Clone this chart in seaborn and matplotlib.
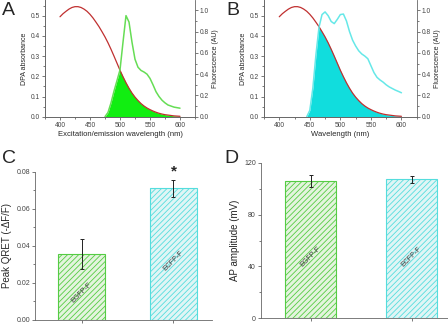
import numpy as np
import pandas as pd
import matplotlib
matplotlib.use('Agg')
import matplotlib.pyplot as plt
import seaborn as sns
from matplotlib.ticker import AutoMinorLocator

# spectra, shared 5 nm grid 400..600
wavelength = np.arange(400, 601, 5)
dpa_abs = [0.495, 0.510, 0.522, 0.533, 0.541, 0.545, 0.545, 0.541, 0.533, 0.522,
           0.507, 0.489, 0.468, 0.446, 0.421, 0.395, 0.366, 0.334, 0.300, 0.265,
           0.230, 0.198, 0.168, 0.141, 0.117, 0.097, 0.080, 0.065, 0.053, 0.043,
           0.035, 0.028, 0.022, 0.017, 0.013, 0.010, 0.008, 0.006, 0.004, 0.003, 0.002]
egfp_em = [0, 0, 0, 0, 0, 0, 0, 0, 0, 0,
           0, 0, 0, 0, 0, 0.0, 0.04, 0.13, 0.24, 0.34,
           0.44, 0.70, 0.95, 0.89, 0.70, 0.54, 0.465, 0.435, 0.42, 0.40,
           0.36, 0.30, 0.235, 0.19, 0.155, 0.13, 0.11, 0.10, 0.09, 0.085, 0.08]
ecfp_em = [0, 0, 0, 0, 0, 0, 0, 0, 0, 0.0,
           0.06, 0.27, 0.58, 0.84, 0.96, 0.985, 0.95, 0.895, 0.875, 0.915,
           0.96, 0.965, 0.90, 0.80, 0.72, 0.665, 0.62, 0.59, 0.57, 0.545,
           0.48, 0.415, 0.37, 0.345, 0.325, 0.30, 0.28, 0.265, 0.25, 0.238, 0.225]

# bar panels
constructs = ['EGFP-F', 'ECFP-F']
qret_mean = [0.0355, 0.0710]
qret_err = [0.0080, 0.0047]
ap_mean = [105.7, 107.2]
ap_err = [4.5, 2.5]

RED = '#c03030'
GREEN_LINE = '#66dd55'
GREEN_FILL = '#11ee11'
CYAN_LINE = '#66e8e8'
CYAN_FILL = '#11dddd'
BAR_FACE = ['#e2f8da', '#dcf8f8']
BAR_EDGE = ['#55cc44', '#55dddd']

sns.set_style('ticks')
plt.rcParams['font.family'] = ['Liberation Sans', 'DejaVu Sans']
plt.rcParams['hatch.linewidth'] = 0.6

fig = plt.figure(figsize=(4.48, 3.24), dpi=100)
W, H = 448.0, 324.0


def box(l, t, r, b):
    return [l / W, 1 - b / H, (r - l) / W, (b - t) / H]


def spectrum_panel(ax, em, line_col, fill_col, xlabel):
    ylim_l = (0, 0.578)
    ylim_r = (0, 1.097)
    ratio = ylim_l[1] / ylim_r[1]
    em = np.array(em)
    red = np.array(dpa_abs)
    ax.fill_between(wavelength, 0, np.minimum(red, em * ratio), color=fill_col, lw=0, zorder=1)
    sns.lineplot(x=wavelength, y=red, color=RED, lw=0.9, ax=ax, zorder=3)
    axr = ax.twinx()
    first = np.argmax(em > 0)
    sns.lineplot(x=wavelength[first - 1:], y=em[first - 1:], color=line_col, lw=1.1, ax=axr, zorder=2)
    ax.set_xlim(375, 625)
    ax.set_ylim(*ylim_l)
    axr.set_ylim(*ylim_r)
    ax.set_xticks([400, 450, 500, 550, 600])
    ax.set_yticks([0.0, 0.1, 0.2, 0.3, 0.4, 0.5])
    axr.set_yticks([0.0, 0.2, 0.4, 0.6, 0.8, 1.0])
    ax.yaxis.set_major_formatter(plt.FormatStrFormatter('%.1f'))
    axr.yaxis.set_major_formatter(plt.FormatStrFormatter('%.1f'))
    ax.xaxis.set_minor_locator(AutoMinorLocator(2))
    ax.yaxis.set_minor_locator(AutoMinorLocator(2))
    axr.yaxis.set_minor_locator(AutoMinorLocator(2))
    ax.set_xlabel(xlabel, fontsize=5.5, labelpad=2)
    ax.set_ylabel('DPA absorbance', fontsize=5, labelpad=2)
    axr.set_ylabel('Fluorescence (AU)', fontsize=5, labelpad=2)
    for a in (ax, axr):
        a.tick_params(which='major', labelsize=4.8, length=2.5, width=0.5, pad=1, colors='#444444')
        a.tick_params(which='minor', length=1.5, width=0.5, colors='#444444')
        for s in a.spines.values():
            s.set_linewidth(0.6)
            s.set_color('#666666')
        a.spines['top'].set_visible(False)
    ax.spines['right'].set_visible(False)


axA = fig.add_axes(box(45, 0, 195, 116.7))
spectrum_panel(axA, egfp_em, GREEN_LINE, GREEN_FILL, 'Excitation/emission wavelength (nm)')
axB = fig.add_axes(box(264, 0, 416.7, 116.7))
spectrum_panel(axB, ecfp_em, CYAN_LINE, CYAN_FILL, 'Wavelength (nm)')


def bar_panel(ax, means, errs, label_y):
    df = pd.DataFrame({'construct': constructs, 'value': means})
    sns.barplot(data=df, x='construct', y='value', hue='construct', palette=BAR_FACE,
                width=0.51, errorbar=None, legend=False, ax=ax, zorder=2)
    for p, ec in zip(ax.patches, BAR_EDGE):
        p.set_edgecolor(ec)
        p.set_hatch('//////')
        p.set_linewidth(0.8)
    ax.errorbar(range(len(means)), means, yerr=errs, fmt='none', ecolor='#222222',
                elinewidth=0.7, capsize=1.5, capthick=0.7, zorder=4)
    for i, name in enumerate(constructs):
        ax.text(i, label_y[i], name, rotation=45, ha='center', va='center',
                fontsize=5, color='#333333', zorder=5)
    ax.set_xlabel('')
    ax.set_xticks(range(len(means)))
    ax.set_xticklabels([])
    ax.tick_params(axis='x', length=2.5, width=0.5, colors='#444444')
    ax.tick_params(axis='y', labelsize=5, length=2.5, width=0.5, pad=1, colors='#444444')
    ax.yaxis.set_minor_locator(AutoMinorLocator(2))
    ax.tick_params(which='minor', length=1.5, width=0.5, colors='#444444')
    sns.despine(ax=ax)
    for s in ('left', 'bottom'):
        ax.spines[s].set_linewidth(0.6)
        ax.spines[s].set_color('#666666')


axC = fig.add_axes(box(35, 171.7, 212, 320))
bar_panel(axC, qret_mean, qret_err, [0.0146, 0.032])
axC.set_xlim(-0.51, 1.42)
axC.set_ylim(0, 0.08)
axC.set_yticks([0.00, 0.02, 0.04, 0.06, 0.08])
axC.yaxis.set_major_formatter(plt.FormatStrFormatter('%.2f'))
axC.set_ylabel('Peak QRET (-ΔF/F)', fontsize=7, labelpad=3)
axC.text(1, 0.0765, '*', ha='center', va='bottom', fontsize=11, fontweight='bold',
         clip_on=False)

axD = fig.add_axes(box(260.7, 162.7, 448, 318.3))
bar_panel(axD, ap_mean, ap_err, [47.5, 47.5])
axD.set_xlim(-0.495, 1.36)
axD.set_ylim(0, 120)
axD.set_yticks([0, 40, 80, 120])
axD.set_ylabel('AP amplitude (mV)', fontsize=7, labelpad=3)

for letter, x, y in [('A', 2, 2), ('B', 226, 2), ('C', 2, 150), ('D', 224, 150)]:
    fig.text(x / W, 1 - y / H, letter, fontsize=14, va='top', ha='left')

fig.savefig('out.png', dpi=100)
